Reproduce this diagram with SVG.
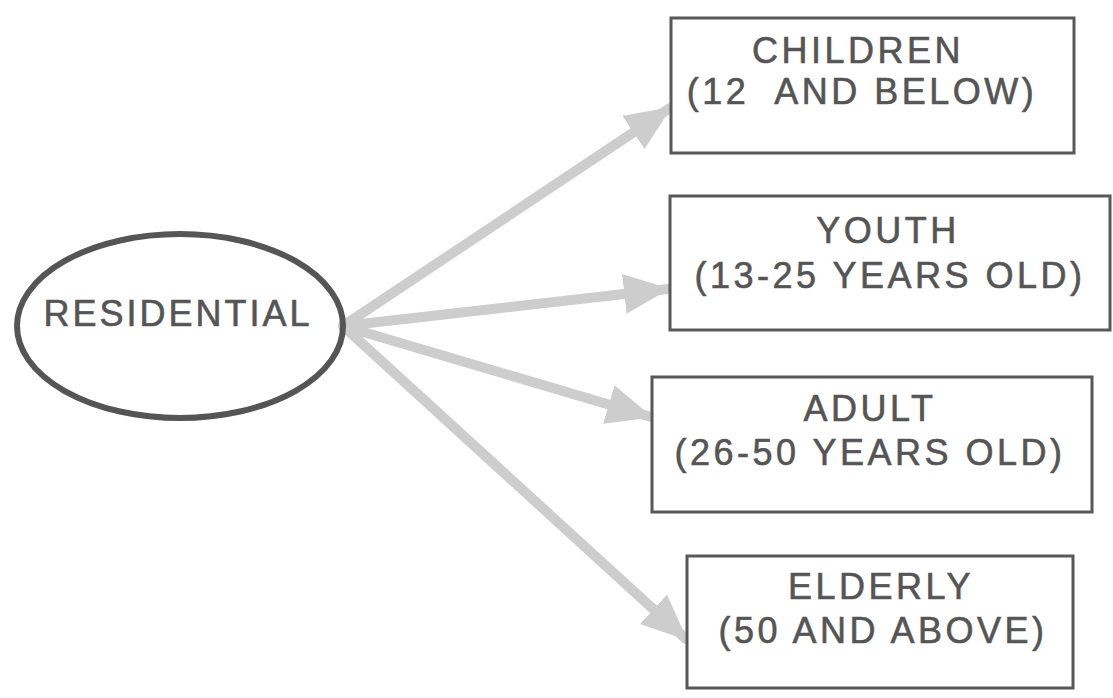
<svg xmlns="http://www.w3.org/2000/svg" width="1113" height="698" viewBox="0 0 1113 698">
<style>
text{font-family:"Liberation Sans",Arial,sans-serif;fill:#555;stroke:#555;stroke-width:0.6;font-size:36px;letter-spacing:3.5px;text-anchor:middle}
.box{fill:#fff;stroke:#585858;stroke-width:3}
.arr{stroke:#cdcdcd;stroke-width:10;fill:none;stroke-linecap:round}
</style>
<defs>
<marker id="ah" viewBox="0 0 46 40" refX="44" refY="20" markerWidth="46" markerHeight="40" markerUnits="userSpaceOnUse" orient="auto">
<path d="M0,0 L46,20 L0,40 Z" fill="#cdcdcd"/>
</marker>
</defs>
<rect width="1113" height="698" fill="#fff"/>
<g id="connectors">
<line class="arr" x1="343" y1="326" x2="670" y2="108" marker-end="url(#ah)"/>
<line class="arr" x1="343" y1="326" x2="668" y2="289" marker-end="url(#ah)"/>
<line class="arr" x1="343" y1="326" x2="651" y2="417" marker-end="url(#ah)"/>
<line class="arr" x1="343" y1="326" x2="686" y2="639" marker-end="url(#ah)"/>
</g>
<g id="residential">
<ellipse cx="180" cy="326" rx="163" ry="92" fill="none" stroke="#555" stroke-width="6"/>
<text x="178" y="326" style="letter-spacing:3px">RESIDENTIAL</text>
</g>
<g id="children">
<rect class="box" x="671" y="18" width="403" height="135"/>
<text x="858" y="63">CHILDREN</text>
<text x="862" y="104" xml:space="preserve">(12  AND BELOW)</text>
</g>
<g id="youth">
<rect class="box" x="670" y="196" width="440" height="134"/>
<text x="888" y="243">YOUTH</text>
<text x="890" y="288">(13-25 YEARS OLD)</text>
</g>
<g id="adult">
<rect class="box" x="652" y="377" width="440" height="135"/>
<text x="870" y="421">ADULT</text>
<text x="870" y="465">(26-50 YEARS OLD)</text>
</g>
<g id="elderly">
<rect class="box" x="687" y="556" width="386" height="132"/>
<text x="881" y="599">ELDERLY</text>
<text x="883" y="643">(50 AND ABOVE)</text>
</g>
</svg>
